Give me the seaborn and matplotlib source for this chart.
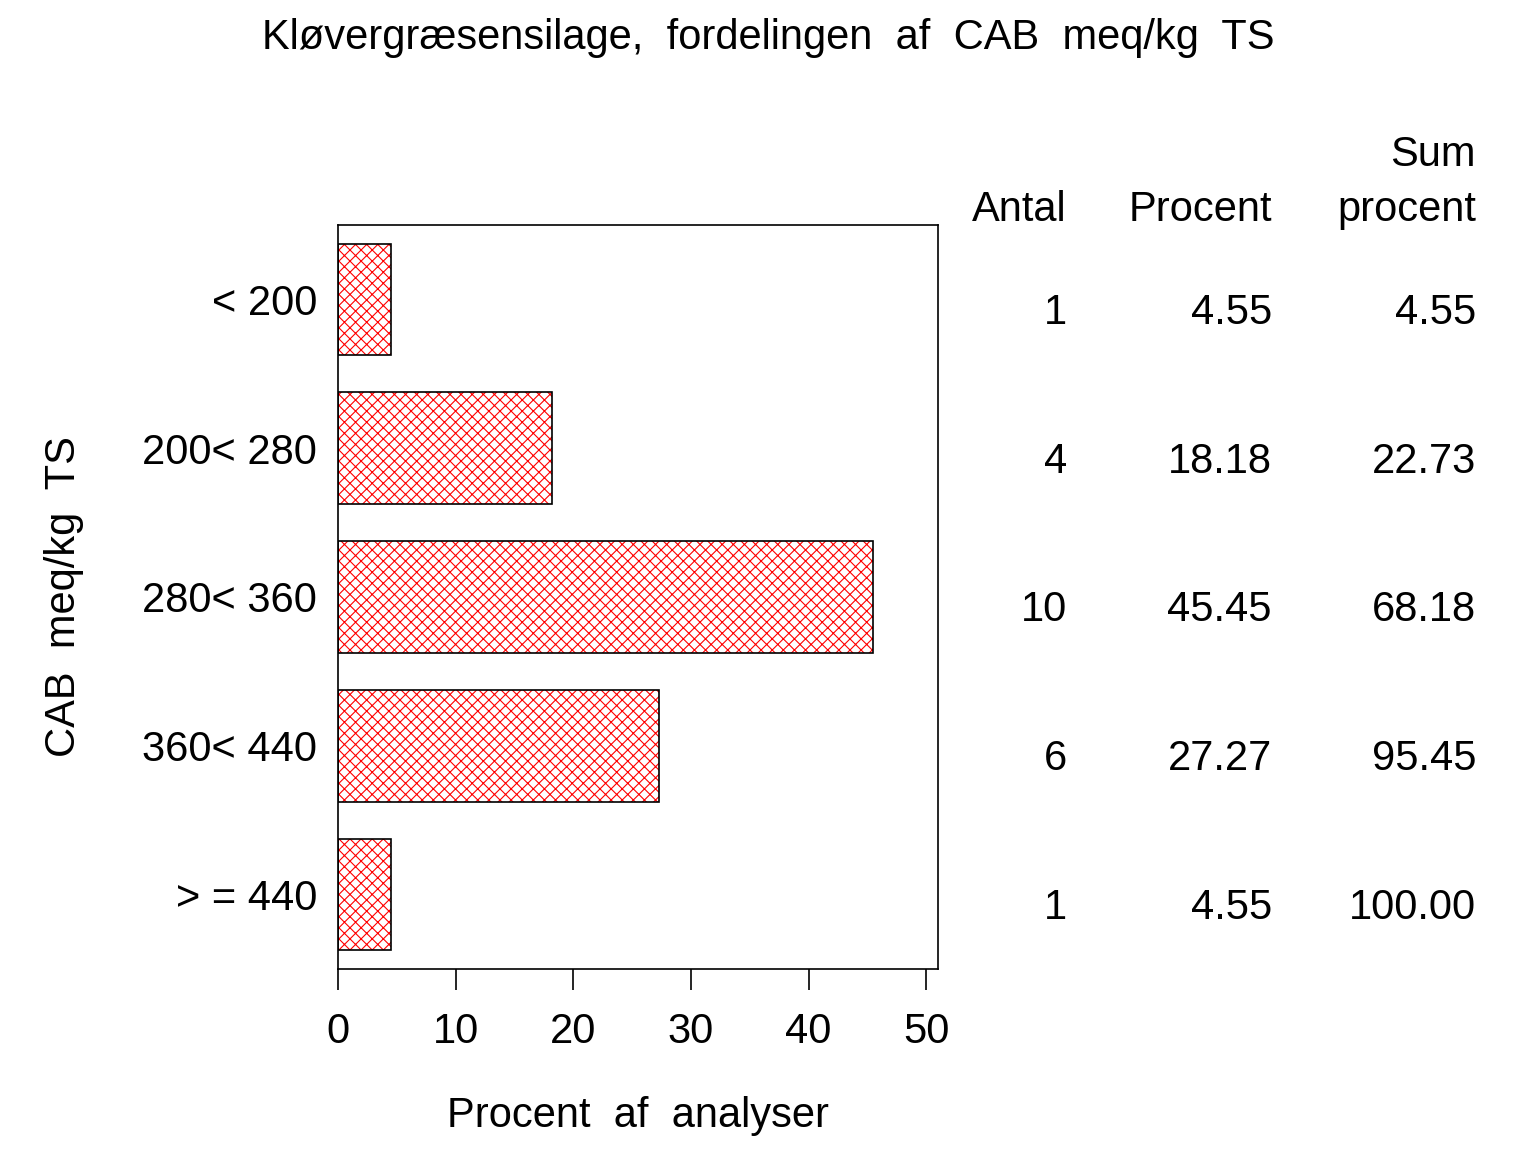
import matplotlib
matplotlib.use("Agg")
import matplotlib.pyplot as plt
import matplotlib.transforms as mtrans
import seaborn as sns
import pandas as pd

categories = ["< 200", "200< 280", "280< 360", "360< 440", "> = 440"]
antal = [1, 4, 10, 6, 1]
procent = [4.55, 18.18, 45.45, 27.27, 4.55]
sum_procent = [4.55, 22.73, 68.18, 95.45, 100.00]
x_ticks = [0, 10, 20, 30, 40, 50]

df = pd.DataFrame({"kategori": categories, "procent": procent})

sns.set_style("white")
plt.rcParams['font.family'] = ['Liberation Sans', 'DejaVu Sans']
plt.rcParams['hatch.linewidth'] = 0.8
plt.rcParams['text.color'] = 'black'
plt.rcParams['axes.labelcolor'] = 'black'
plt.rcParams['xtick.color'] = 'black'
plt.rcParams['ytick.color'] = 'black'

FS = 30

fig = plt.figure(figsize=(15.36, 11.52), dpi=100)
ax = fig.add_axes([0.22, 0.1589, 0.3907, 0.6458])

# hatched fill in red, then black outline on top
sns.barplot(data=df, y="kategori", x="procent", orient="h", ax=ax, width=0.75,
            color="white", edgecolor="red", hatch="xxx", linewidth=0)
sns.barplot(data=df, y="kategori", x="procent", orient="h", ax=ax, width=0.75,
            fill=False, edgecolor="black", linewidth=1.2)

ax.set_xlim(0, 51)
ax.set_ylim(4.5, -0.5)
ax.set_xticks(x_ticks)
ax.tick_params(axis="x", direction="out", length=15, width=1.2, pad=16, labelsize=FS, bottom=True)
ax.tick_params(axis="y", length=0, pad=15, labelsize=FS)
for s in ax.spines.values():
    s.set_linewidth(1.2)
    s.set_color("black")

ax.set_xlabel("Procent  af  analyser", fontsize=FS, labelpad=32)
ax.set_ylabel("CAB  meq/kg  TS", fontsize=FS, labelpad=42)
fig.suptitle("Kløvergræsensilage,  fordelingen  af  CAB  meq/kg  TS", fontsize=FS,
             y=1 - 38 / 1152, va="center")

# table to the right
blend = mtrans.blended_transform_factory(fig.transFigure, ax.transData)
cols = [1067 / 1536, 1272 / 1536, 1476 / 1536]
for i in range(len(categories)):
    vals = [str(antal[i]), f"{procent[i]:.2f}", f"{sum_procent[i]:.2f}"]
    for cx, v in zip(cols, vals):
        fig.text(cx, i + 0.09, v, transform=blend, ha="right", va="center", fontsize=FS)

fig.text(cols[0], 1 - 210 / 1152, "Antal", ha="right", va="center", fontsize=FS)
fig.text(cols[1], 1 - 210 / 1152, "Procent", ha="right", va="center", fontsize=FS)
fig.text(cols[2], 1 - 210 / 1152, "procent", ha="right", va="center", fontsize=FS)
fig.text(cols[2], 1 - 155 / 1152, "Sum", ha="right", va="center", fontsize=FS)

fig.savefig("out.png", dpi=100)
